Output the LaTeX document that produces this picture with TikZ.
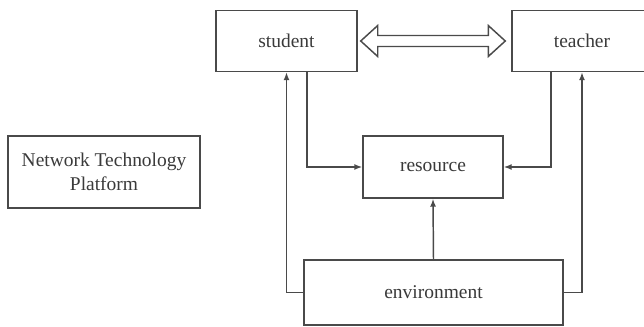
\documentclass[tikz,border=0pt]{standalone}
\usepackage{fontspec}
\setmainfont{Liberation Serif}
\usetikzlibrary{calc,arrows.meta}

\definecolor{linegray}{HTML}{4A4A4A}
\definecolor{textgray}{HTML}{3A3A3A}

\tikzset{
  box/.style={draw=linegray, line width=1.1pt, text=textgray, font=\fontsize{14.6}{18}\selectfont, align=center, inner sep=0pt},
  arr/.style={draw=linegray, line width=1.1pt, -{Latex[length=6pt,width=4.5pt]}}
}

\begin{document}
\begin{tikzpicture}[x=0.75pt,y=-0.75pt]
\useasboundingbox (0,0) rectangle (644,327);
\node[box, minimum width=141*0.75pt, minimum height=61*0.75pt] (student) at (286.5,41) {student};
\node[box, minimum width=140*0.75pt, minimum height=61*0.75pt] (teacher) at (582,41) {teacher};
\node[box, minimum width=140*0.75pt, minimum height=62*0.75pt] (resource) at (433,167) {resource};
\node[box, minimum width=259*0.75pt, minimum height=65*0.75pt] (environment) at (433.5,292.5) {environment};
\node[box, minimum width=192*0.75pt, minimum height=72*0.75pt] (platform) at (104,172) {Network Technology\\Platform};
% two-way arrow between student and teacher
\coordinate (dl) at ($(student.east)+(3,0)$);
\coordinate (dr) at ($(teacher.west)+(-6,0)$);
\draw[draw=linegray, line width=1.1pt, line join=miter] (dl) -- ++(17,-15.5) -- ++(0,10) -- ($(dr)+(-17,-5.5)$) -- ++(0,-10) -- (dr)
  -- ++(-17,15.5) -- ++(0,-10) -- ($(dl)+(17,5.5)$) -- ++(0,10) -- cycle;
% connectors
\draw[arr] (environment.west) -| (student.south);
\draw[arr] (environment.east) -| (teacher.south);
\draw[arr] ($(student.south)+(20.5,0)$) |- (resource.west);
\draw[arr] ($(teacher.south)+(-31,0)$) |- (resource.east);
\draw[arr] (environment.north) -- (resource.south);
\end{tikzpicture}
\end{document}
